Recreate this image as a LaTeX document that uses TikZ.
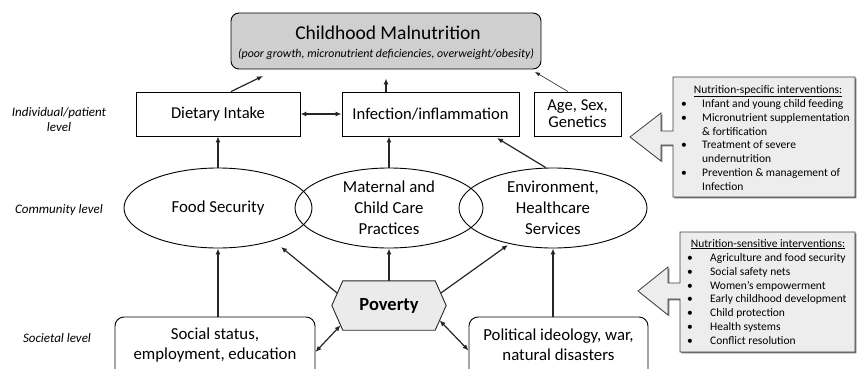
\documentclass[tikz,border=0pt]{standalone}
\usepackage{fontspec}
\setmainfont{Carlito}
\usetikzlibrary{arrows.meta,calc,shapes.geometric}
\tikzset{
  box/.style={draw=black, line width=0.9pt, fill=white, inner sep=0pt, align=center, font=\fontsize{16.6}{17}\selectfont},
  ell/.style={ellipse, draw=black, line width=0.9pt, minimum width=188pt, minimum height=80pt, inner sep=0pt, align=center, font=\fontsize{16.8}{21}\selectfont},
  rbox/.style={draw=black, line width=0.9pt, rounded corners=9pt, fill=white, inner sep=0pt},
  txt/.style={inner sep=0pt, align=center, font=\fontsize{16.8}{20.5}\selectfont},
  arr/.style={line width=1.2pt, draw=black!85, -{Latex[length=6pt,width=5pt]}},
  darr/.style={line width=1.2pt, draw=black!85, {Latex[length=6pt,width=5pt]}-{Latex[length=6pt,width=5pt]}},
  thinarr/.style={line width=0.6pt, draw=black!85, -{Latex[length=5pt,width=4pt]}},
  lvl/.style={inner sep=0pt, align=center, font=\fontsize{13}{15}\selectfont\itshape},
  callout/.style={fill=black!7, draw=black!75, line width=0.8pt, line join=miter},
  calloutshadow/.style={fill=black!55, draw=none},
  itm/.style={anchor=base west, inner sep=0pt, font=\fontsize{11.5}{13.8}\selectfont},
  ttl/.style={anchor=base, inner sep=0pt, font=\fontsize{11.5}{13.8}\selectfont},
}
\begin{document}
\begin{tikzpicture}[x=1pt,y=-1pt]
\fill[white] (0,0) rectangle (857,369);
\useasboundingbox (0,0) rectangle (857,369);
\clip (0,0) rectangle (857,369);

% top box
\node[draw=black, line width=0.9pt, fill=black!19, rounded corners=8pt, minimum width=310pt, minimum height=56pt, inner sep=0pt] (top) at (386,41) {};
\node[inner sep=0pt, font=\fontsize{19.5}{22}\selectfont] (toptitle) at (388,33) {Childhood Malnutrition};
\node[inner sep=0pt, font=\fontsize{11.9}{13}\selectfont\itshape] (topsub) at (386,54) {(poor growth, micronutrient deficiencies, overweight/obesity)};

% individual level
\node[box, minimum width=164pt, minimum height=44pt] (diet) at (218,114) {Dietary Intake};
\node[box, minimum width=177pt, minimum height=44pt] (inf) at (430.5,114) {Infection/inflammation};
\node[box, minimum width=87pt, minimum height=44pt] (age) at (577.5,114) {Age, Sex,\\Genetics};

% community level
\node[ell] (fs) at (218,208) {Food Security};
\node[ell] (mat) at (389,208) {Maternal and\\Child Care\\Practices};
\node[ell] (env) at (553,208) {Environment,\\Healthcare\\Services};

% poverty hexagon
\node[minimum width=114pt, minimum height=49pt, inner sep=0pt] (pov) at (389,305.5) {};
\coordinate (htl) at ([xshift=11pt]pov.north west);
\coordinate (htr) at ([xshift=-11pt]pov.north east);
\coordinate (hbr) at ([xshift=-11pt]pov.south east);
\coordinate (hbl) at ([xshift=11pt]pov.south west);
\filldraw[fill=black!8, draw=black!85, line width=0.9pt] (pov.west) -- (htl) -- (htr) -- (pov.east) -- (hbr) -- (hbl) -- cycle;
\node[inner sep=0pt, font=\fontsize{18.5}{20}\selectfont\bfseries] (povt) at (pov.center) {Poverty};

% societal level (boxes run past the lower edge)
\node[rbox, minimum width=200pt, minimum height=64pt] (soc) at (215,349) {};
\node[txt] (soct) at (215,345) {Social status,\\employment, education};
\node[rbox, minimum width=179pt, minimum height=64pt] (pol) at (558.5,349) {};
\node[txt] (polt) at (558.5,344.5) {Political ideology, war,\\natural disasters};

% level labels
\node[lvl] (l1) at (59,119.5) {Individual/patient\\level};
\node[lvl] (l2) at (59,210) {Community level};
\node[lvl] (l3) at (57,338) {Societal level};

% connectors
\coordinate (c1) at (263,76);
\coordinate (c2) at (535,72);
\coordinate (c3) at (497,138);
\coordinate (c4) at (281,247);
\coordinate (c5) at (508,245);
\draw[arr] ([xshift=13pt]diet.north) -- (c1);
\draw[arr] ([xshift=-44.5pt]inf.north) -- ([yshift=-9pt]top.south);
\draw[thinarr] ([xshift=-9.5pt]age.north) -- (c2);
\draw[darr] (diet.east) -- (inf.west);
\draw[arr] (fs.north) -- (fs.north |- diet.south);
\draw[arr] (mat.north) -- (mat.north |- inf.south);
\draw[arr] (env.100) -- (c3);
\draw[arr] (soc.north -| fs.south) -- (fs.south);
\draw[arr] (pol.north -| env.south) -- (env.south);
\draw[arr] ($(pov.west)!0.5!(htl)$) -- (c4);
\draw[arr] (pov.north) -- (mat.south);
\draw[arr] ($(pov.east)!0.5!(htr)$) -- (c5);
\draw[darr] ([yshift=-3pt]soc.east) -- ($(pov.west)!0.8!(hbl)$);
\draw[darr] ($(pov.east)!0.6!(hbr)$) -- ([yshift=-1.5pt]pol.west);

% nutrition-specific callout
\fill[calloutshadow, shift={(1.3,1.3)}] (673,77) -- (855,77) -- (855,197) -- (673,197) -- (673,145) -- (661,145) -- (661,161) -- (630,137) -- (661,113) -- (661,131) -- (673,131) -- cycle;
\filldraw[callout] (673,77) -- (855,77) -- (855,197) -- (673,197) -- (673,145) -- (661,145) -- (661,161) -- (630,137) -- (661,113) -- (661,131) -- (673,131) -- cycle;
\node[ttl] (spt) at (768,93) {\underline{Nutrition-specific interventions:}};
\node[itm] (spl) at (681,107.5) {\begin{tabular}[t]{@{}l@{}l@{}}
\makebox[21pt][l]{\textbullet} & Infant and young child feeding\\
\makebox[21pt][l]{\textbullet} & Micronutrient supplementation\\
 & \& fortification\\
\makebox[21pt][l]{\textbullet} & Treatment of severe\\
 & undernutrition\\
\makebox[21pt][l]{\textbullet} & Prevention \& management of\\
 & Infection
\end{tabular}};

% nutrition-sensitive callout
\fill[calloutshadow, shift={(1.3,1.3)}] (680,232) -- (855,232) -- (855,352) -- (680,352) -- (680,299) -- (668,299) -- (668,315) -- (638,291) -- (668,267) -- (668,283) -- (680,283) -- cycle;
\filldraw[callout] (680,232) -- (855,232) -- (855,352) -- (680,352) -- (680,299) -- (668,299) -- (668,315) -- (638,291) -- (668,267) -- (668,283) -- (680,283) -- cycle;
\node[ttl] (sst) at (768,247) {\underline{Nutrition-sensitive interventions:}};
\node[itm] (ssl) at (687,261.5) {\begin{tabular}[t]{@{}l@{}l@{}}
\makebox[23pt][l]{\textbullet} & Agriculture and food security\\
\makebox[23pt][l]{\textbullet} & Social safety nets\\
\makebox[23pt][l]{\textbullet} & Women’s empowerment\\
\makebox[23pt][l]{\textbullet} & Early childhood development\\
\makebox[23pt][l]{\textbullet} & Child protection\\
\makebox[23pt][l]{\textbullet} & Health systems\\
\makebox[23pt][l]{\textbullet} & Conflict resolution
\end{tabular}};
\end{tikzpicture}
\end{document}
